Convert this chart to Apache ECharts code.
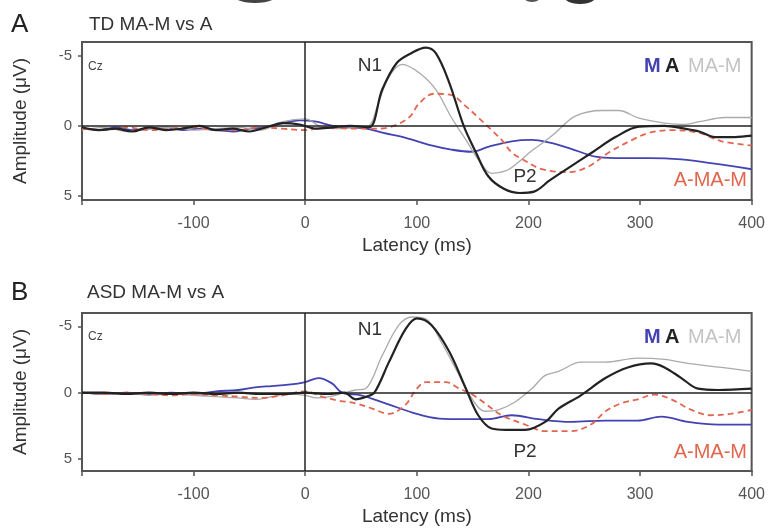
<!DOCTYPE html>
<html>
<head>
<meta charset="utf-8">
<script src="https://cdn.jsdelivr.net/npm/echarts@6/dist/echarts.min.js"></script>
<style>
  html, body { margin: 0; padding: 0; background: #fff; }
  #main { width: 768px; height: 531px; }
</style>
</head>
<body>
<div id="main"></div>
<script>
// latency (ms) / amplitude (uV) pairs
var xTicks = [-200, -100, 0, 100, 200, 300, 400];
var yTicks = [-5, 0, 5];

// A: TD group
var tdM = [[-200,0.2],[-185,0.3],[-170,0.1],[-155,0.3],[-140,0.2],[-125,0.1],[-110,0.3],[-95,0.2],[-80,0.3],[-65,0.4],[-50,0.2],[-35,0.1],[-20,-0.2],[-5,-0.4],[10,-0.3],[25,0.0],[40,0.1],[55,0.2],[70,0.5],[90,0.85],[113,1.4],[131,1.7],[149,1.85],[164,1.5],[185,1.1],[203,1.0],[219,1.2],[237,1.6],[260,2.2],[278,2.3],[308,2.3],[337,2.4],[367,2.7],[400,3.1]];
var tdA = [[-200,0.1],[-185,0.3],[-170,0.2],[-155,0.4],[-140,0.1],[-125,0.3],[-110,0.2],[-95,0.0],[-80,0.3],[-65,0.2],[-50,0.4],[-35,0.1],[-20,-0.2],[-5,-0.1],[10,0.2],[25,0.1],[40,0.0],[57,0.1],[69,-2.6],[82,-4.5],[95,-5.2],[108,-5.6],[117,-5.2],[129,-3.1],[142,0],[153,1.9],[164,3.6],[178,4.5],[192,4.8],[205,4.7],[219,3.9],[238,2.9],[257,1.9],[278,0.8],[299,0.05],[322,0],[340,0.2],[353,0.4],[367,0.8],[385,0.8],[400,0.7]];
var tdMAM = [[-200,0.3],[-180,0.1],[-160,0.4],[-140,0.2],[-120,0.1],[-100,0.3],[-80,0.2],[-60,0.1],[-40,0.3],[-20,-0.3],[0,-0.5],[15,0.1],[30,0.2],[45,0.1],[57,0.0],[65,-1.5],[75,-3.5],[87,-4.4],[102,-3.8],[117,-2.6],[131,-0.6],[144,1.0],[155,2.4],[167,3.4],[180,3.2],[191,2.6],[201,1.9],[213,1.2],[224,0.5],[242,-0.7],[266,-1.1],[281,-1.1],[299,-0.55],[322,-0.2],[340,-0.1],[353,-0.3],[376,-0.6],[400,-0.6]];
var tdDiff = [[-200,0.2],[-180,0.3],[-160,0.1],[-140,0.3],[-120,0.2],[-100,0.1],[-80,0.3],[-60,0.3],[-40,0.1],[-20,0.2],[0,0.3],[20,0.1],[40,0.2],[60,0.2],[75,0.1],[93,-0.6],[102,-1.6],[115,-2.3],[131,-2.2],[144,-1.4],[155,-0.6],[167,0.3],[176,1.0],[185,1.9],[195,2.4],[212,3.1],[237,3.3],[254,2.9],[272,1.9],[293,1.0],[308,0.5],[329,0.3],[353,0.5],[373,1.1],[400,1.4]];

// B: ASD group
var asdM = [[-200,0.0],[-180,0.1],[-160,0.0],[-140,0.1],[-120,0.0],[-100,0.1],[-80,-0.1],[-60,-0.2],[-45,-0.4],[-30,-0.5],[-15,-0.6],[0,-0.8],[12,-1.1],[24,-0.7],[33,0.0],[50,0.2],[72,0.8],[96,1.5],[120,1.95],[144,2.0],[164,2.0],[185,1.7],[209,2.0],[238,2.2],[269,2.1],[298,2.1],[319,1.8],[343,2.2],[370,2.4],[400,2.4]];
var asdA = [[-200,0.0],[-180,0.0],[-160,0.1],[-140,0.0],[-120,0.1],[-100,0.0],[-80,0.1],[-60,0.0],[-40,0.1],[-20,0.1],[0,0.0],[20,0.1],[35,0.0],[45,0.5],[55,0.3],[62,0.0],[75,-2.3],[90,-4.8],[100,-5.6],[113,-5.1],[129,-3.1],[144,-0.3],[155,1.7],[167,2.7],[180,2.8],[197,2.8],[215,2.2],[227,1.2],[247,0.2],[269,-1.1],[289,-1.9],[310,-2.2],[322,-1.9],[337,-1.1],[352,-0.3],[370,-0.2],[400,-0.3]];
var asdMAM = [[-200,0.0],[-180,0.1],[-160,0.0],[-140,0.2],[-120,0.1],[-100,0.2],[-80,0.3],[-60,0.4],[-45,0.5],[-30,0.3],[-15,0.1],[0,0.2],[10,0.4],[22,0.3],[35,0.0],[45,-0.2],[54,-0.3],[69,-2.8],[84,-5.1],[96,-5.7],[109,-5.5],[122,-3.8],[138,-1.3],[149,0.4],[161,1.4],[173,1.3],[188,0.7],[203,-0.3],[215,-1.3],[227,-1.6],[247,-2.3],[269,-2.3],[298,-2.6],[322,-2.5],[343,-2.2],[373,-1.9],[400,-1.6]];
var asdDiff = [[-200,0.0],[-180,0.1],[-160,0.0],[-140,0.1],[-120,0.2],[-100,0.1],[-80,0.2],[-60,0.3],[-40,0.4],[-20,0.2],[0,-0.1],[15,0.3],[30,0.6],[45,0.8],[60,1.2],[75,1.6],[90,0.9],[99,-0.2],[108,-0.8],[126,-0.8],[138,-0.3],[149,0.1],[161,0.8],[176,1.7],[197,2.4],[215,2.9],[238,2.9],[256,2.4],[269,1.4],[283,0.8],[298,0.5],[313,0.15],[328,0.5],[346,1.3],[363,1.7],[381,1.6],[400,1.3]];

var FONT = '"Liberation Sans", Arial, sans-serif';
var BLUE = '#4343b3', BLACK = '#222', GRAY = '#aaaaaa', RED = '#e2664f';

var chart = echarts.init(document.getElementById('main'));

function xAx(gi) {
  return {
    type: 'value', gridIndex: gi, min: -200, max: 400, interval: 100,
    name: 'Latency (ms)', nameLocation: 'middle', nameGap: 36,
    nameTextStyle: { fontFamily: FONT, fontSize: 19, color: '#333' },
    axisLine: { show: true, onZero: false, lineStyle: { color: '#555', width: 2 } },
    axisTick: { show: true, length: 5, lineStyle: { color: '#555', width: 1.5 } },
    axisLabel: { fontFamily: FONT, fontSize: 16, color: '#555', margin: 16,
      formatter: function (v) { return v === -200 ? '' : v; } },
    splitLine: { show: false }
  };
}
function yAx(gi, mx) {
  return {
    type: 'value', gridIndex: gi, inverse: true, min: -6, max: mx,
    name: 'Amplitude (\u03bcV)', nameLocation: 'middle', nameGap: 52,
    nameTextStyle: { fontFamily: FONT, fontSize: 19, color: '#333' },
    axisLine: { show: true, onZero: false, lineStyle: { color: '#555', width: 2 } },
    axisTick: { show: true, length: 4, customValues: yTicks, lineStyle: { color: '#555', width: 1.5 } },
    axisLabel: { fontFamily: FONT, fontSize: 15, color: '#555', margin: 10, customValues: yTicks },
    splitLine: { show: false }
  };
}
function ln(name, data, gi, color, w, dash) {
  return {
    name: name, type: 'line', xAxisIndex: gi, yAxisIndex: gi, data: data,
    showSymbol: false, smooth: 0.35, silent: true,
    lineStyle: { color: color, width: w, type: dash ? [6, 4] : 'solid' }
  };
}
function zeroLines(gi) {
  return {
    type: 'line', xAxisIndex: gi, yAxisIndex: gi, data: [], silent: true,
    markLine: {
      symbol: ['none', 'none'], silent: true, label: { show: false },
      lineStyle: { color: '#222', width: 1.5, type: 'solid' },
      data: [{ yAxis: 0 }, { xAxis: 0 }]
    }
  };
}
function txt(t, x, y, size, color, weight, align) {
  return { type: 'text', x: x, y: y, z: 10,
    style: { text: t, font: (weight || 'normal') + ' ' + size + 'px ' + FONT,
      fill: color, textAlign: align || 'left', textVerticalAlign: 'middle' } };
}

chart.setOption({
  animation: false,
  grid: [
    { left: 82, top: 42, width: 672, height: 158, show: true, borderColor: '#555', borderWidth: 2 },
    { left: 82, top: 313, width: 672, height: 158, show: true, borderColor: '#555', borderWidth: 2 }
  ],
  xAxis: [xAx(0), xAx(1)],
  yAxis: [yAx(0, 5.3), yAx(1, 5.9)],
  series: [
    zeroLines(0),
    ln('M', tdM, 0, BLUE, 1.8),
    ln('MA-M', tdMAM, 0, GRAY, 1.3),
    ln('A-MA-M', tdDiff, 0, RED, 1.8, true),
    ln('A', tdA, 0, BLACK, 2.2),
    zeroLines(1),
    ln('M', asdM, 1, BLUE, 1.8),
    ln('MA-M', asdMAM, 1, GRAY, 1.3),
    ln('A-MA-M', asdDiff, 1, RED, 1.8, true),
    ln('A', asdA, 1, BLACK, 2.2)
  ],
  graphic: [
    // cut-off marks at the top edge
    { type: 'ellipse', shape: { cx: 255, cy: -5, rx: 22, ry: 8 }, style: { fill: '#444' } },
    { type: 'ellipse', shape: { cx: 532, cy: -4, rx: 9, ry: 6 }, style: { fill: '#555' } },
    { type: 'ellipse', shape: { cx: 580, cy: -5, rx: 17, ry: 9 }, style: { fill: '#333' } },

    txt('A', 11, 25, 26, '#222'),
    txt('TD MA-M vs A', 89, 25, 19, '#333'),
    txt('Cz', 88, 67, 12, '#444'),
    txt('N1', 370, 66, 19, '#333', 'normal', 'center'),
    txt('P2', 525, 177, 19, '#333', 'normal', 'center'),
    txt('M', 644, 66, 20, BLUE, 'bold'),
    txt('A', 665, 66, 20, BLACK, 'bold'),
    txt('MA-M', 688, 66, 20, '#c4c4c4'),
    txt('A-MA-M', 747, 180, 20, RED, 'normal', 'right'),

    txt('B', 11, 293, 26, '#222'),
    txt('ASD MA-M vs A', 87, 293, 19, '#333'),
    txt('Cz', 88, 337, 12, '#444'),
    txt('N1', 370, 330, 19, '#333', 'normal', 'center'),
    txt('P2', 525, 452, 19, '#333', 'normal', 'center'),
    txt('M', 644, 337, 20, BLUE, 'bold'),
    txt('A', 665, 337, 20, BLACK, 'bold'),
    txt('MA-M', 688, 337, 20, '#c4c4c4'),
    txt('A-MA-M', 747, 452, 20, RED, 'normal', 'right')
  ]
});
</script>
</body>
</html>
